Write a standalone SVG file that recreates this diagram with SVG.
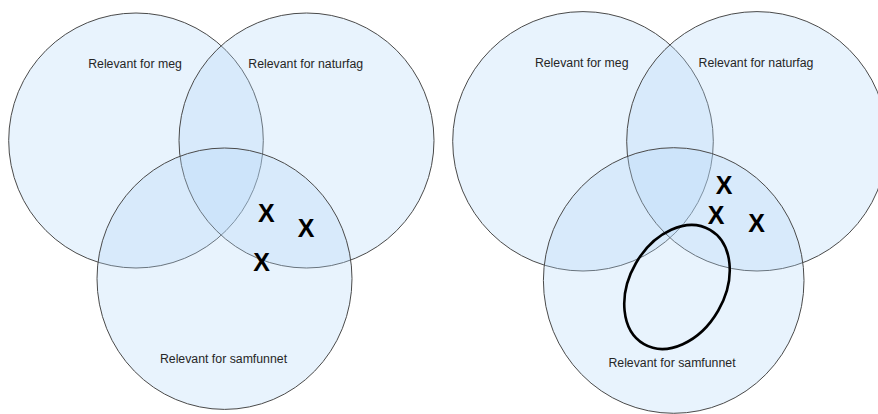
<svg xmlns="http://www.w3.org/2000/svg" width="878" height="414" viewBox="0 0 878 414">
<style>
.set{fill:#b4d7fa;fill-opacity:0.3;stroke:#4a4a4a;stroke-width:1}
.lbl{font-family:"Liberation Sans",Arial,sans-serif;font-size:12.3px;fill:#262626;text-anchor:middle}
.x{font-family:"Liberation Sans",Arial,sans-serif;font-size:25px;font-weight:bold;fill:#000;text-anchor:middle}
.ring{fill:none;stroke:#000;stroke-width:2.6}
</style>
<rect width="878" height="414" fill="#fff"/>
<g id="left">
<g id="l-meg"><ellipse class="set" cx="136" cy="140.5" rx="127.3" ry="127.5"/><text class="lbl" x="135" y="68">Relevant for meg</text></g>
<g id="l-naturfag"><ellipse class="set" cx="306.5" cy="140.5" rx="127.5" ry="127.5"/><text class="lbl" x="305.7" y="68">Relevant for naturfag</text></g>
<g id="l-samfunnet"><ellipse class="set" cx="224.5" cy="278.7" rx="127.5" ry="130.7"/><text class="lbl" x="223.5" y="362.5">Relevant for samfunnet</text></g>
<g id="l-marks"><text class="x" x="266.3" y="222">X</text><text class="x" x="306" y="237">X</text><text class="x" x="261.7" y="270.5">X</text></g>
</g>
<g id="right">
<g id="r-meg"><ellipse class="set" cx="583" cy="141.3" rx="130.3" ry="129.7"/><text class="lbl" x="581.7" y="67">Relevant for meg</text></g>
<g id="r-naturfag"><ellipse class="set" cx="757" cy="141.3" rx="130.3" ry="129.7"/><text class="lbl" x="756" y="67">Relevant for naturfag</text></g>
<g id="r-samfunnet"><ellipse class="set" cx="673.7" cy="280.5" rx="130.3" ry="132.8"/><text class="lbl" x="672" y="367">Relevant for samfunnet</text></g>
<g id="r-marks"><text class="x" x="724" y="194">X</text><text class="x" x="716" y="224">X</text><text class="x" x="756.7" y="231.5">X</text></g>
<g id="r-ring"><ellipse class="ring" cx="677" cy="287" rx="47.5" ry="66" transform="rotate(30 677 287)"/></g>
</g>
<g id="connectors"/>
</svg>
